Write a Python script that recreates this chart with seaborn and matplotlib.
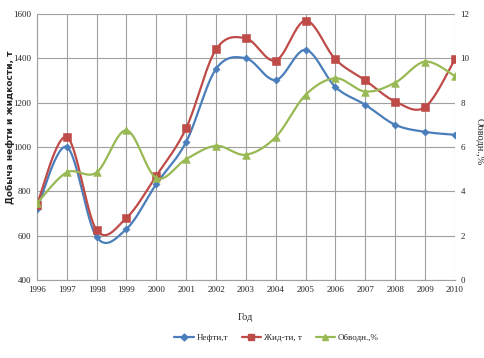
import numpy as np
import pandas as pd
import seaborn as sns
import matplotlib.pyplot as plt
from matplotlib.lines import Line2D

years = list(range(1996, 2011))
oil = [720, 1000, 594, 630, 833, 1023, 1352, 1400, 1302, 1438, 1270, 1190, 1100, 1068, 1055]
liquid = [740, 1045, 625, 680, 870, 1085, 1440, 1490, 1390, 1570, 1395, 1300, 1205, 1180, 1395]
watercut = [3.45, 4.85, 4.85, 6.75, 4.6, 5.45, 6.05, 5.65, 6.45, 8.35, 9.1, 8.5, 8.9, 9.85, 9.2]


def smooth(xs, ys, n=30):
    # excel-like smoothed line (cardinal bezier)
    xs = np.asarray(xs, float)
    ys = np.asarray(ys, float)
    px, py = [], []
    for i in range(len(xs) - 1):
        x0, y0 = (xs[i - 1], ys[i - 1]) if i > 0 else (xs[i], ys[i])
        x3, y3 = (xs[i + 2], ys[i + 2]) if i + 2 < len(xs) else (xs[i + 1], ys[i + 1])
        x1, y1, x2, y2 = xs[i], ys[i], xs[i + 1], ys[i + 1]
        c1x, c1y = x1 + (x2 - x0) / 6, y1 + (y2 - y0) / 6
        c2x, c2y = x2 - (x3 - x1) / 6, y2 - (y3 - y1) / 6
        t = np.linspace(0, 1, n)
        bx = (1-t)**3*x1 + 3*(1-t)**2*t*c1x + 3*(1-t)*t**2*c2x + t**3*x2
        by = (1-t)**3*y1 + 3*(1-t)**2*t*c1y + 3*(1-t)*t**2*c2y + t**3*y2
        px.extend(bx)
        py.extend(by)
    return pd.DataFrame({'x': px, 'y': py})


sns.set_style('white')
plt.rcParams['font.family'] = ['Liberation Serif', 'DejaVu Serif']

blue, red, green = '#4A7EBB', '#BE4B48', '#98B954'

fig = plt.figure(figsize=(4.85, 3.58), dpi=100)
ax = fig.add_axes([0.076, 0.218, 0.862, 0.743])
ax2 = ax.twinx()

s = smooth(years, oil)
sns.lineplot(data=s, x='x', y='y', ax=ax, color=blue, lw=1.6, sort=False)
sns.scatterplot(x=years, y=oil, ax=ax, color=blue, marker='D', s=14, edgecolor=blue, zorder=5)
s = smooth(years, liquid)
sns.lineplot(data=s, x='x', y='y', ax=ax, color=red, lw=1.6, sort=False)
sns.scatterplot(x=years, y=liquid, ax=ax, color=red, marker='s', s=26, edgecolor=red, zorder=5)
s = smooth(years, watercut)
sns.lineplot(data=s, x='x', y='y', ax=ax2, color=green, lw=1.6, sort=False)
sns.scatterplot(x=years, y=watercut, ax=ax2, color=green, marker='^', s=30, edgecolor=green, zorder=5)

ax.set_xlim(1996, 2010)
ax.set_ylim(400, 1600)
ax2.set_ylim(0, 12)
ax.set_xticks(years)
ax.set_yticks(range(400, 1601, 200))
ax2.set_yticks(range(0, 13, 2))
ax.grid(True, color='#A0A0A0', lw=0.8)
ax.tick_params(labelsize=6.5, length=0, pad=4)
ax2.tick_params(labelsize=6.5, length=0, pad=4)
for sp in ['top', 'right', 'left', 'bottom']:
    ax.spines[sp].set_visible(False)
    ax2.spines[sp].set_visible(False)
ax.spines['left'].set_visible(True)
ax.spines['left'].set_color('#A0A0A0')
ax.spines['bottom'].set_visible(True)
ax.spines['bottom'].set_color('#A0A0A0')

ax.set_xlabel('Год', fontsize=7.5, labelpad=14)
ax.set_ylabel('Добыча нефти и жидкости, т', fontsize=6.5, fontweight='bold',
              family=['DejaVu Sans'], va='center')
ax.yaxis.set_label_coords(-0.064, 0.575)
ax2.set_ylabel('Обводн.,%', fontsize=7.5, rotation=270, va='center')
ax2.yaxis.set_label_coords(1.058, 0.52)

handles = [
    Line2D([], [], color=blue, marker='D', markersize=3.5, lw=1.6),
    Line2D([], [], color=red, marker='s', markersize=4.5, lw=1.6),
    Line2D([], [], color=green, marker='^', markersize=4.5, lw=1.6),
]
fig.legend(handles, ['Нефти,т', 'Жид-ти, т', 'Обводн.,%'], loc='center',
           bbox_to_anchor=(0.57, 0.055), ncol=3, frameon=False, fontsize=6.5,
           handlelength=2.2, columnspacing=1.5, handletextpad=0.3)

fig.savefig('out.png', dpi=100)
